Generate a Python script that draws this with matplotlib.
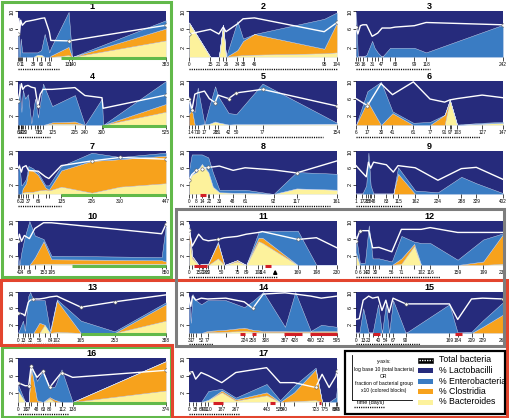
import matplotlib
matplotlib.use("Agg")
import matplotlib.pyplot as plt
from matplotlib.patches import Rectangle, Polygon
import numpy as np

plt.rcParams['font.family'] = ['Liberation Sans', 'DejaVu Sans']

NAVY = "#262b7c"
BLUE = "#3a7cc3"
ORANGE = "#f7a21c"
YELLOW = "#fdf29c"
GREEN = "#62b94a"
RED = "#e3452e"
DARKRED = "#d21f26"
GRAY = "#7d7d7d"

# ---- data: day, log10 total, then group fractions x10 (bacteroides, clostridia, enterobacteria)
d1 = [0, 2, 4, 7, 11, 20, 39, 50, 60, 69, 81, 85, 131, 140, 383]
tot1 = [5.1, 8.4, 5.1, 8.0, 6.9, 7.7, 8.0, 8.2, 8.4, 8.5, 5.5, 3.6, 3.5, 3.6, 6.9]
bac1 = [0, 0, 0, 0, 0, 0, 0, 0.5, 0.5, 0, 0, 0, 0.4, 0, 3.6]
clo1 = [0, 0, 0, 0, 0, 0, 0, 0, 0, 0, 0, 0.3, 1.8, 0, 2.6]
ent1 = [6, 8, 0, 4, 1, 1, 1, 0.5, 1, 5, 1, 1.7, 7.6, 0, 1.8]
lab1 = [0, 11, 39, 60, 81, 131, 140, 383]

d2 = [0, 15, 21, 24, 26, 34, 38, 46, 95, 104]
tot2 = [5.0, 6.0, 5.0, 6.5, 5.5, 7.2, 8.3, 8.5, 5.5, 7.5]
bac2 = [7.5, 0, 0, 7, 0, 0.3, 0.4, 0.5, 0.8, 1.0]
clo2 = [0, 0, 0, 0, 0, 1.2, 3.1, 4.5, 1.0, 6.5]
ent2 = [0, 0, 0, 0, 0, 6.3, 0.5, 0, 6.5, 2.2]
lab2 = [0, 15, 21, 26, 34, 38, 46, 95, 104]

d3 = [5, 8, 12, 16, 22, 31, 35, 40, 47, 60, 68, 99, 118, 242]
tot3 = [6.5, 5.0, 6.8, 7.0, 7.0, 4.5, 4.8, 5.2, 6.3, 6.3, 6.5, 6.8, 7.5, 7.0]
bac3 = [0, 0, 0, 0, 0, 0, 0, 0, 0, 0, 0, 0, 0, 0]
clo3 = [0, 0, 0, 0, 0, 0, 0, 0, 0, 0, 0, 0, 0, 0]
ent3 = [9.8, 0, 0, 0, 0.5, 3.5, 2.0, 1.0, 0, 2.0, 2.0, 2.0, 1.0, 7.0]
lab3 = [5, 8, 16, 31, 47, 68, 99, 118, 242]

d4 = [5, 10, 17, 22, 30, 40, 52, 65, 75, 83, 93, 125, 205, 240, 300, 304, 525]
tot4 = [5.5, 7.0, 9.4, 8.1, 8.8, 9.0, 8.6, 8.4, 4.3, 7.0, 8.1, 8.1, 8.5, 6.7, 6.2, 3.8, 6.8]
bac4 = [0, 0, 0, 0, 0, 0, 0, 0, 0, 0, 0, 0.3, 0.3, 0, 0, 0, 3.0]
clo4 = [0, 0, 0, 0, 0, 0, 0, 0, 0, 0, 0, 0.3, 0.5, 0, 0, 0, 1.8]
ent4 = [5, 9.4, 3, 8, 6, 7, 0.4, 6, 1.7, 5, 9.4, 3.7, 6.0, 0, 6, 0, 5.2]
lab4 = [6, 14, 20, 30, 73, 83, 125, 205, 240, 300, 525]

d5 = [1, 4, 7, 10, 17, 22, 28, 31, 42, 50, 77, 154]
tot5 = [6.0, 3.4, 7.0, 7.3, 7.7, 6.0, 5.1, 6.8, 6.0, 7.3, 8.1, 4.3]
bac5 = [0, 0, 0, 0, 0.2, 0.3, 0.8, 0.6, 0.1, 0.2, 0.2, 0.3]
clo5 = [2.5, 3.5, 0, 0, 0, 0, 0, 0, 0, 0, 0, 0]
ent5 = [4.0, 0, 3, 8.5, 0, 4, 8, 6, 2.6, 2.3, 9.2, 0.2]
lab5 = [1, 4, 7, 10, 17, 28, 31, 42, 50, 77, 154]

d6 = [6, 17, 30, 41, 61, 77, 91, 96, 103, 127, 147]
tot6 = [6.0, 4.4, 9.4, 6.9, 9.8, 5.9, 5.2, 5.7, 6.0, 6.8, 6.2]
bac6 = [0, 0, 0, 0, 0, 0, 0, 5.7, 0, 0.3, 0.5]
clo6 = [0, 5.4, 0, 2.7, 0, 0, 2.3, 0, 0, 0, 0]
ent6 = [0, 2.3, 9.8, 0.4, 0.5, 0.7, 0, 0, 0.1, 0.2, 0.2]
lab6 = [6, 17, 30, 41, 61, 77, 91, 97, 103, 127, 147]

d7 = [6, 10, 16, 20, 30, 37, 50, 66, 88, 98, 135, 226, 310, 447]
tot7 = [5.9, 6.5, 5.1, 6.2, 6.6, 5.5, 5.4, 5.3, 4.0, 3.6, 6.6, 7.7, 8.5, 8.1]
bac7 = [0, 0, 0, 0.3, 0.5, 0.5, 0.5, 0.8, 1.0, 0.8, 1.7, 0.3, 1.7, 2.5]
clo7 = [0, 0, 0, 1, 2, 5, 5, 3.6, 0.5, 0.2, 3.8, 7.4, 6.4, 6.4]
ent7 = [5, 7, 2, 1, 1, 1, 0.5, 0.5, 0.5, 1, 1, 1.9, 0.5, 0.7]
lab7 = [6, 20, 37, 66, 135, 226, 310, 447]

d8 = [0, 3, 8, 14, 21, 26, 33, 48, 61, 92, 117, 161]
tot8 = [3.2, 4.5, 5.5, 5.9, 6.2, 6.3, 6.5, 5.5, 6.1, 5.6, 4.9, 7.7]
bac8 = [3.2, 4.5, 5.1, 7.0, 5.1, 1.7, 0.4, 0.3, 0.3, 0, 1.3, 1.0]
clo8 = [0, 0, 0, 0, 0, 0, 0, 0, 0, 0, 0, 0]
ent8 = [2.3, 4.7, 4.1, 2.2, 3.4, 3.3, 0.6, 0.7, 0.7, 0, 3.8, 3.7]
lab8 = [0, 8, 14, 22, 33, 48, 61, 92, 117, 161]

d9 = [0, 17, 28, 34, 40, 48, 83, 102, 115, 162, 224, 288, 329, 402]
tot9 = [6.6, 5.0, 4.0, 7.4, 6.0, 7.4, 6.8, 5.1, 6.6, 6.1, 3.2, 5.9, 6.2, 3.4]
bac9 = [0, 0, 0, 0, 0, 0, 0, 0, 0, 0, 0, 0, 0, 0]
clo9 = [0, 0, 0, 0, 0, 0, 0, 0, 4.7, 0, 0, 0, 0, 0]
ent9 = [0, 0, 2, 9.6, 2, 0, 0, 0, 1.5, 0.8, 0.4, 4.0, 2.5, 0.2]
lab9 = [1, 17, 28, 38, 48, 83, 115, 162, 224, 288, 329, 402]

d10 = [4, 12, 24, 40, 69, 100, 150, 195, 825, 850]
tot10 = [5.4, 7.0, 5.4, 6.7, 6.0, 8.3, 9.6, 9.6, 7.1, 9.3]
bac10 = [0, 0, 0, 0, 0, 0.2, 0.3, 0.3, 0.3, 0.3]
clo10 = [0, 0, 0, 0, 0, 1.5, 5.1, 1.0, 0.8, 0.5]
ent10 = [2, 0, 3, 6, 10, 5, 0.5, 0.8, 0.7, 8.5]
lab10 = [4, 24, 69, 153, 195, 850]

d11 = [0, 5, 15, 22, 30, 45, 55, 75, 89, 108, 114, 169, 198, 230]
tot11 = [8.0, 4.3, 7.0, 5.8, 5.5, 5.8, 6.2, 6.5, 7.0, 7.4, 7.6, 5.8, 6.2, 3.9]
bac11 = [5.8, 1.5, 0, 0.3, 0, 1.5, 0, 0.8, 0, 5.4, 5.0, 0, 0, 0]
clo11 = [3.5, 0.5, 0, 0, 0.3, 3.5, 0, 0.3, 0, 0.8, 1.2, 0, 0, 0]
ent11 = [0, 0, 0, 0, 0, 0.3, 0, 0, 0, 1.2, 1.5, 7.8, 0, 0]
lab11 = [0, 15, 20, 26, 30, 50, 75, 89, 108, 114, 169, 198, 230]

d12 = [0, 6, 14, 20, 26, 36, 56, 71, 91, 102, 116, 159, 199, 230]
tot12 = [5.4, 7.8, 7.8, 7.8, 3.9, 4.0, 3.0, 8.1, 8.1, 8.1, 8.5, 7.4, 7.4, 7.4]
bac12 = [2.7, 0, 0, 0, 0, 0, 0, 0.3, 4.3, 0, 0, 0, 0, 0.3]
clo12 = [0, 0, 0, 0, 0, 0, 0, 1.2, 0.5, 0, 0, 0, 0.8, 6.7]
ent12 = [4, 0.5, 0.5, 9, 1.5, 1.5, 0.8, 5.1, 0.5, 5.0, 5.0, 1.2, 5.0, 0.2]
lab12 = [0, 6, 14, 20, 30, 56, 71, 102, 116, 159, 199, 230]

d13 = [0, 13, 18, 27, 32, 40, 56, 70, 84, 102, 165, 253, 388]
tot13 = [5.0, 4.6, 4.2, 7.5, 8.0, 8.3, 8.3, 8.5, 8.8, 9.0, 6.3, 7.6, 9.3]
bac13 = [0, 0, 0, 0, 0, 0, 0, 2, 0, 0.3, 0, 0, 3.0]
clo13 = [0, 0, 0, 0, 0, 0, 2.5, 0, 0, 7.6, 0, 0, 4.0]
ent13 = [0, 3, 0.5, 9, 10, 8, 5.5, 6, 0.5, 0.3, 3.0, 0.4, 0.5]
lab13 = [0, 13, 32, 56, 84, 102, 165, 253, 388]

d14 = [3, 10, 17, 30, 52, 77, 150, 224, 258, 300, 387, 428, 490, 532, 595]
tot14 = [8.5, 6.5, 9.0, 8.0, 8.5, 8.3, 8.5, 7.6, 6.0, 9.5, 9.8, 9.5, 9.0, 8.5, 9.0]
bac14 = [0, 0, 0, 0, 0, 0.2, 0.3, 0.5, 0.3, 0.2, 0.2, 0.2, 0.2, 0.2, 0.2]
clo14 = [0, 0, 0, 0, 0, 0.3, 0.5, 0.8, 0.5, 0.3, 0.3, 0.2, 0.2, 0.3, 0.3]
ent14 = [9.0, 2.5, 9.5, 8.0, 7.0, 7.5, 7.2, 5.0, 7.0, 9.5, 1.0, 9.6, 0.1, 1.5, 1.0]
lab14 = [3, 17, 52, 77, 224, 258, 308, 387, 428, 490, 532, 595]

d15 = [0, 6, 13, 23, 30, 40, 47, 54, 60, 67, 90, 169, 184, 209, 229, 266]
tot15 = [3.3, 3.5, 8.0, 9.0, 8.5, 8.8, 5.5, 8.0, 5.0, 8.5, 7.1, 7.1, 3.3, 8.3, 8.5, 8.3]
bac15 = [0, 0, 0, 0, 0, 0, 0, 0, 0, 0, 0, 0, 0, 0, 0, 0]
clo15 = [0, 0, 0, 0, 0, 0, 0, 0, 0, 0, 0, 0, 0, 0, 1.5, 4.5]
ent15 = [0, 0, 6, 0, 0, 7, 0, 7, 0, 8, 0, 7, 0, 0.3, 1.5, 3.0]
lab15 = [0, 13, 23, 40, 54, 67, 90, 169, 184, 209, 229, 266]

d16 = [0, 18, 27, 33, 48, 63, 80, 93, 110, 138, 374]
tot16 = [4.4, 3.7, 3.7, 8.1, 5.6, 7.0, 3.3, 4.8, 6.7, 5.6, 7.2]
bac16 = [2.6, 0, 0, 0, 0, 0, 0.8, 0, 0, 0, 2.6]
clo16 = [0, 0, 0, 8.0, 0.4, 0, 0.3, 0.5, 0, 0, 6.7]
ent16 = [1.4, 0, 0, 0.5, 4.4, 7.0, 2.2, 3.0, 7.4, 0, 0]
lab16 = [0, 18, 27, 48, 63, 80, 112, 138, 374]

d17 = [0, 20, 38, 69, 110, 187, 267, 443, 520, 600, 723, 760, 800, 839, 845]
tot17 = [6.7, 6.9, 5.2, 6.7, 6.0, 4.4, 6.7, 7.8, 4.4, 4.4, 3.3, 6.3, 3.3, 5.9, 7.0]
bac17 = [0, 0, 0, 0, 0.5, 2.2, 0.3, 1.5, 0, 0.2, 0.4, 0, 0, 0, 0]
clo17 = [0, 0, 0, 0, 0, 0.4, 0.3, 0.7, 0, 2.0, 7.0, 0, 0, 0, 0]
ent17 = [0, 0, 0, 0, 2.0, 0.4, 0.4, 1.9, 0.4, 1.5, 0.4, 0, 0, 1.1, 3.3]
lab17 = [0, 38, 69, 90, 110, 187, 267, 443, 520, 540, 723, 775, 839, 845]

# marked total-bacteria points, end of dotted time bar, green and red periods
marks = [[0, 131, 383], [0, 104], [5, 242], [5, 75, 525], [1, 4, 28, 42, 50, 77, 154],
         [17], [226, 310, 447], [0, 8, 14, 21, 117], [], [4, 850], [0, 45, 169],
         [0, 6], [0, 40, 165, 253], [258], [90, 266], [0, 27, 33, 63, 80, 110, 374],
         [0, 723, 845]]
dot_end = [105, 104, 124, 116, 140, 125, 135, 153, 125, 147, 136, 131, 110, 99, 116, 127, 290]
green = {1: (112, 383), 4: (300, 525), 7: (135, 447), 10: (310, 850), 13: (165, 388), 16: (138, 374)}
red = {8: [(12, 18)], 11: [(8, 28), (118, 128)],
       14: [(207, 227), (253, 271), (381, 454), (488, 595)],
       15: [(31, 43), (179, 191)], 17: [(138, 195), (462, 491), (740, 753)]}

panels = [(d1, tot1, bac1, clo1, ent1, lab1), (d2, tot2, bac2, clo2, ent2, lab2),
          (d3, tot3, bac3, clo3, ent3, lab3), (d4, tot4, bac4, clo4, ent4, lab4),
          (d5, tot5, bac5, clo5, ent5, lab5), (d6, tot6, bac6, clo6, ent6, lab6),
          (d7, tot7, bac7, clo7, ent7, lab7), (d8, tot8, bac8, clo8, ent8, lab8),
          (d9, tot9, bac9, clo9, ent9, lab9), (d10, tot10, bac10, clo10, ent10, lab10),
          (d11, tot11, bac11, clo11, ent11, lab11), (d12, tot12, bac12, clo12, ent12, lab12),
          (d13, tot13, bac13, clo13, ent13, lab13), (d14, tot14, bac14, clo14, ent14, lab14),
          (d15, tot15, bac15, clo15, ent15, lab15), (d16, tot16, bac16, clo16, ent16, lab16),
          (d17, tot17, bac17, clo17, ent17, lab17)]

W, H = 509, 418
fig = plt.figure(figsize=(W / 100, H / 100), dpi=100)
cols = [(18, 166), (189, 337), (356, 503)]
rows = [(11, 57), (81, 125), (151, 194), (221, 265), (292, 333), (358, 402)]


def px_axes(x0, y0, x1, y1):
    return fig.add_axes([x0 / W, 1 - y1 / H, (x1 - x0) / W, (y1 - y0) / H])


for i, (d, tot, bac, clo, ent, lab) in enumerate(panels):
    n = i + 1
    r, c = divmod(i, 3)
    ax = px_axes(cols[c][0], rows[r][0], cols[c][1], rows[r][1])
    ax.set_facecolor(NAVY)
    ax.stackplot(d, bac, clo, ent, colors=[YELLOW, ORANGE, BLUE],
                 edgecolor="#d8e0f2", linewidth=0.3)
    ax.plot(d, tot, color="white", lw=1.0, zorder=4)
    mk = marks[i]
    if mk:
        ax.plot(mk, np.interp(mk, d, tot), 'o', ms=2.4, mfc='white',
                mec='#555555', mew=0.4, zorder=5)
    ax.set_xlim(d[0], d[-1])
    ax.set_ylim(0, 10)
    ax.set_title(str(n), fontsize=6.5, fontweight='bold', pad=0.8)

    ax.set_xticks(lab)
    ax.set_xticklabels([str(v) for v in lab])
    ax.set_xticks(d, minor=True)
    ax.tick_params(axis='x', which='both', length=3, width=0.5, labelsize=3.4,
                   pad=0.8, colors='black')
    ax.set_yticks([2, 6, 10])
    ax.tick_params(axis='y', length=2, width=0.5, labelsize=4, pad=0.5,
                   labelrotation=90)
    for s in ax.spines.values():
        s.set_visible(False)

    if n in green:
        ax.plot(green[n], [-0.3, -0.3], color=GREEN, lw=2.2, clip_on=False,
                solid_capstyle='butt', zorder=6)
    for a, b in red.get(n, []):
        ax.plot([a, b], [-0.3, -0.3], color=DARKRED, lw=2.2, clip_on=False,
                solid_capstyle='butt', zorder=6)
    ax.plot([d[0], dot_end[i]], [-2.7, -2.7], color='black', lw=1.0,
            ls=(0, (0.8, 0.8)), clip_on=False)
    if n == 11:
        ax.annotate('', xy=(134, -0.4), xytext=(134, -2.6),
                    arrowprops=dict(arrowstyle='-|>', color='black', lw=1.2,
                                    mutation_scale=5),
                    annotation_clip=False)

# ---- frames around groups of patients and the key
ov = fig.add_axes([0, 0, 1, 1])
ov.set_xlim(0, W)
ov.set_ylim(H, 0)
ov.axis('off')
ov.patch.set_alpha(0)

ov.add_patch(Rectangle((2, 1.5), 169, 275.5, fill=False, ec=GREEN, lw=2.2))
ov.add_patch(Rectangle((2, 346.5), 169, 70, fill=False, ec=GREEN, lw=2.2))
ov.add_patch(Polygon([(1.5, 279.5), (507.5, 279.5), (507.5, 416.5), (172.5, 416.5),
                      (172.5, 345), (1.5, 345)], closed=True, fill=False,
                     ec=RED, lw=2.2))
ov.add_patch(Rectangle((176, 208.5), 328.5, 137.5, fill=False, ec=GRAY, lw=2.2))

# key
ov.add_patch(Rectangle((345.5, 350.5), 160, 63, fill=False, ec='black', lw=1.6))
ov.plot([352, 352], [355, 400], color='black', lw=0.6)
ov.plot([352, 412], [400, 400], color='black', lw=0.6)
key_lines = ["y-axis:", "log base 10 (total bacteria)", "OR",
             "fraction of bacterial group", "x10 (colored blocks)"]
for k, t in enumerate(key_lines):
    ov.text(384, 362 + k * 7.2, t, fontsize=3.6, ha='center', va='center')
ov.text(371, 402.5, "time (days)", fontsize=4, ha='center', va='center')
ov.plot([354, 385], [406.5, 406.5], color='black', lw=1.0, ls=(0, (0.8, 0.8)))

entries = ["Total bacteria", "% Lactobacilli", "% Enterobacteria",
           "% Clostridia", "% Bacteroides"]
ent_cols = [None, NAVY, BLUE, ORANGE, YELLOW]
for k, (t, col) in enumerate(zip(entries, ent_cols)):
    y = 360 + k * 10.5
    if col is None:
        ov.add_patch(Rectangle((418, y - 2.5), 15, 5, fc='black', ec='black', lw=0.4))
        ov.plot([419, 432], [y, y], color='white', lw=1.0, ls=(0, (1, 0.8)))
    else:
        ov.add_patch(Rectangle((418, y - 2.5), 15, 5, fc=col, ec='none'))
    ov.text(439, y, t, fontsize=6.3, ha='left', va='center')

fig.savefig("out.png", dpi=100)
